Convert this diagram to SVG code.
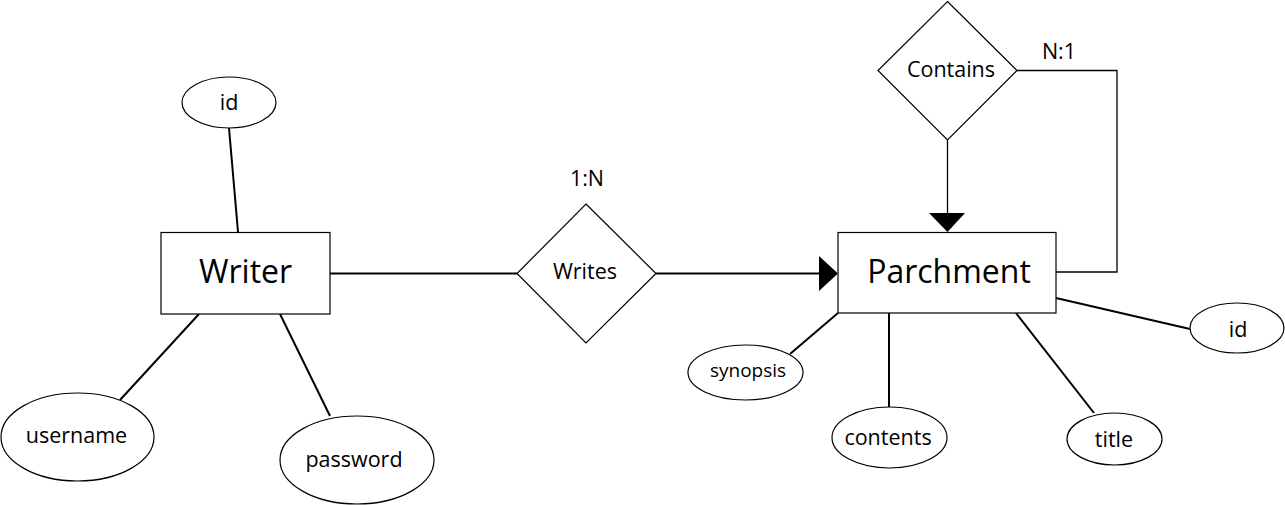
<svg xmlns="http://www.w3.org/2000/svg" width="1285" height="505" viewBox="0 0 1285 505">
<style>
.shape{fill:#fff;stroke:#000;stroke-width:1.2}
.link{stroke:#000;stroke-width:2;fill:none}
.thin{stroke:#000;stroke-width:1.3;fill:none}
.head{fill:#000;stroke:none}
text{font-family:"Open Sans","Liberation Sans",sans-serif;fill:#000;text-anchor:middle}
.big{font-size:32px}
.lbl{font-size:21.5px}
</style>
<rect width="1285" height="505" fill="#fff"/>
<g id="connectors">
<line class="link" x1="229" y1="128" x2="238" y2="232"/>
<line class="link" x1="199" y1="314" x2="120" y2="400"/>
<line class="link" x1="280" y1="314" x2="330" y2="416"/>
<line class="link" x1="330" y1="273.5" x2="517" y2="273.5"/>
<line class="link" x1="656" y1="273.5" x2="822" y2="273.5"/>
<polygon class="head" points="819,256 838,273.5 819,291"/>
<line class="thin" x1="947.5" y1="140" x2="947.5" y2="215"/>
<polygon class="head" points="929,213 965,213 947.5,232"/>
<polyline class="thin" points="1017,70.5 1117,70.5 1117,272 1056,272"/>
<line class="link" x1="838" y1="313" x2="790" y2="354"/>
<line class="link" x1="889" y1="313" x2="889" y2="407"/>
<line class="link" x1="1016" y1="313" x2="1094" y2="413"/>
<line class="link" x1="1056" y1="298" x2="1190" y2="329"/>
</g>
<g id="writer">
<rect class="shape" x="161" y="232.5" width="169" height="81.5"/>
<text class="big" x="245.5" y="283">Writer</text>
</g>
<g id="writer-id">
<ellipse class="shape" cx="229" cy="102.5" rx="47" ry="25.5"/>
<text class="lbl" x="229" y="110">id</text>
</g>
<g id="writer-username">
<ellipse class="shape" cx="77.5" cy="437" rx="76.5" ry="44"/>
<text class="lbl" x="76.5" y="443">username</text>
</g>
<g id="writer-password">
<ellipse class="shape" cx="357" cy="460" rx="77" ry="44"/>
<text class="lbl" x="354" y="467">password</text>
</g>
<g id="writes">
<polygon class="shape" points="586,204 656,273.5 586,343 517,273.5"/>
<text class="lbl" x="585" y="279">Writes</text>
<text class="lbl" x="587" y="186">1:N</text>
</g>
<g id="parchment">
<rect class="shape" x="838" y="232.5" width="218" height="80.5"/>
<text class="big" x="949" y="283">Parchment</text>
</g>
<g id="contains">
<polygon class="shape" points="947.5,1.5 1017,70.5 947.5,140 878,70.5"/>
<text class="lbl" x="951" y="77">Contains</text>
<text class="lbl" x="1059" y="59">N:1</text>
</g>
<g id="parchment-synopsis">
<ellipse class="shape" cx="745.5" cy="372.5" rx="57.5" ry="27.5"/>
<text x="748" y="376.5" style="font-size:19px">synopsis</text>
</g>
<g id="parchment-contents">
<ellipse class="shape" cx="889.5" cy="437.5" rx="57.5" ry="30.5"/>
<text class="lbl" x="888" y="445">contents</text>
</g>
<g id="parchment-title">
<ellipse class="shape" cx="1114.5" cy="439" rx="47.5" ry="26"/>
<text class="lbl" x="1114" y="447">title</text>
</g>
<g id="parchment-id">
<ellipse class="shape" cx="1237" cy="328" rx="47" ry="25"/>
<text class="lbl" x="1238" y="337">id</text>
</g>
</svg>
